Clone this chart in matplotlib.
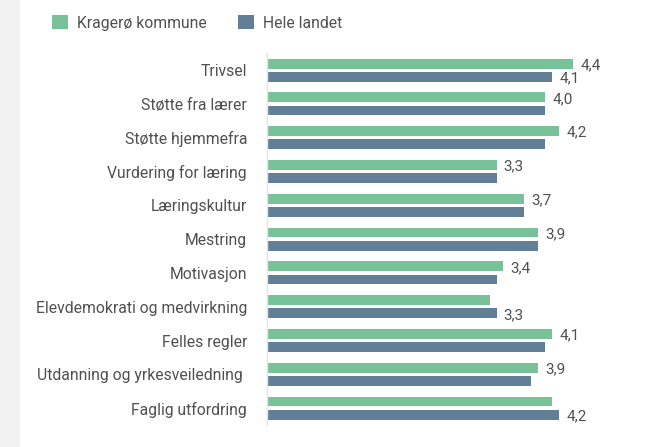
import matplotlib.pyplot as plt
from matplotlib.patches import Rectangle

plt.rcParams['font.family'] = ['Roboto', 'DejaVu Sans']

# data
categories = ['Trivsel', 'Støtte fra lærer', 'Støtte hjemmefra', 'Vurdering for læring',
              'Læringskultur', 'Mestring', 'Motivasjon', 'Elevdemokrati og medvirkning',
              'Felles regler', 'Utdanning og yrkesveiledning ', 'Faglig utfordring']
kragero = [4.4, 4.0, 4.2, 3.3, 3.7, 3.9, 3.4, 3.2, 4.1, 3.9, 4.1]
landet = [4.1, 4.0, 4.0, 3.3, 3.7, 3.9, 3.3, 3.3, 4.0, 3.8, 4.2]
# which data labels are visible in the original
show_kragero = [1, 1, 1, 1, 1, 1, 1, 0, 1, 1, 0]
show_landet = [1, 0, 0, 0, 0, 0, 0, 1, 0, 0, 1]

green = '#78c29a'
blue = '#627f98'
text_col = '#505050'

fig = plt.figure(figsize=(6.7, 4.47), dpi=100)
fig.patch.set_facecolor('white')
# light grey strip on the left edge
fig.patches.append(Rectangle((0, 0), 20 / 670, 1, transform=fig.transFigure,
                             facecolor='#f2f2f2', edgecolor='none', zorder=0))

ax = fig.add_axes([266.5 / 670, 1 - 425 / 447, (5.5 * 69.7) / 670, (425 - 53.3) / 447])

y = list(range(len(categories)))
off = 0.195
h = 0.29
y_g = [i - off for i in y]
y_b = [i + off for i in y]
ax.barh(y_g, kragero, height=h, color=green, label='Kragerø kommune')
ax.barh(y_b, landet, height=h, color=blue, label='Hele landet')

for i in y:
    if show_kragero[i]:
        ax.text(kragero[i] + 0.1, y_g[i], f'{kragero[i]:.1f}'.replace('.', ','),
                va='center_baseline', ha='left', fontsize=11, color=text_col)
    if show_landet[i]:
        ax.text(landet[i] + 0.1, y_b[i], f'{landet[i]:.1f}'.replace('.', ','),
                va='center_baseline', ha='left', fontsize=11, color=text_col)

ax.set_xlim(0, 5.5)
ax.set_ylim(len(categories) - 0.5, -0.5)
ax.set_yticks(y)
ax.set_yticklabels(categories, fontsize=11.3, color=text_col)
ax.tick_params(axis='y', length=0, pad=14)
ax.set_xticks([])
for s in ['top', 'right', 'bottom']:
    ax.spines[s].set_visible(False)
ax.spines['left'].set_color('#e2e4ea')
ax.spines['left'].set_linewidth(1)

fig.legend(loc='center left', bbox_to_anchor=(38 / 670, 1 - 23 / 447), ncol=2,
           frameon=False, fontsize=11.3, handlelength=1.0, handleheight=1.0,
           handletextpad=0.6, columnspacing=2.0, labelcolor=text_col)

fig.savefig('out.png', dpi=100)
